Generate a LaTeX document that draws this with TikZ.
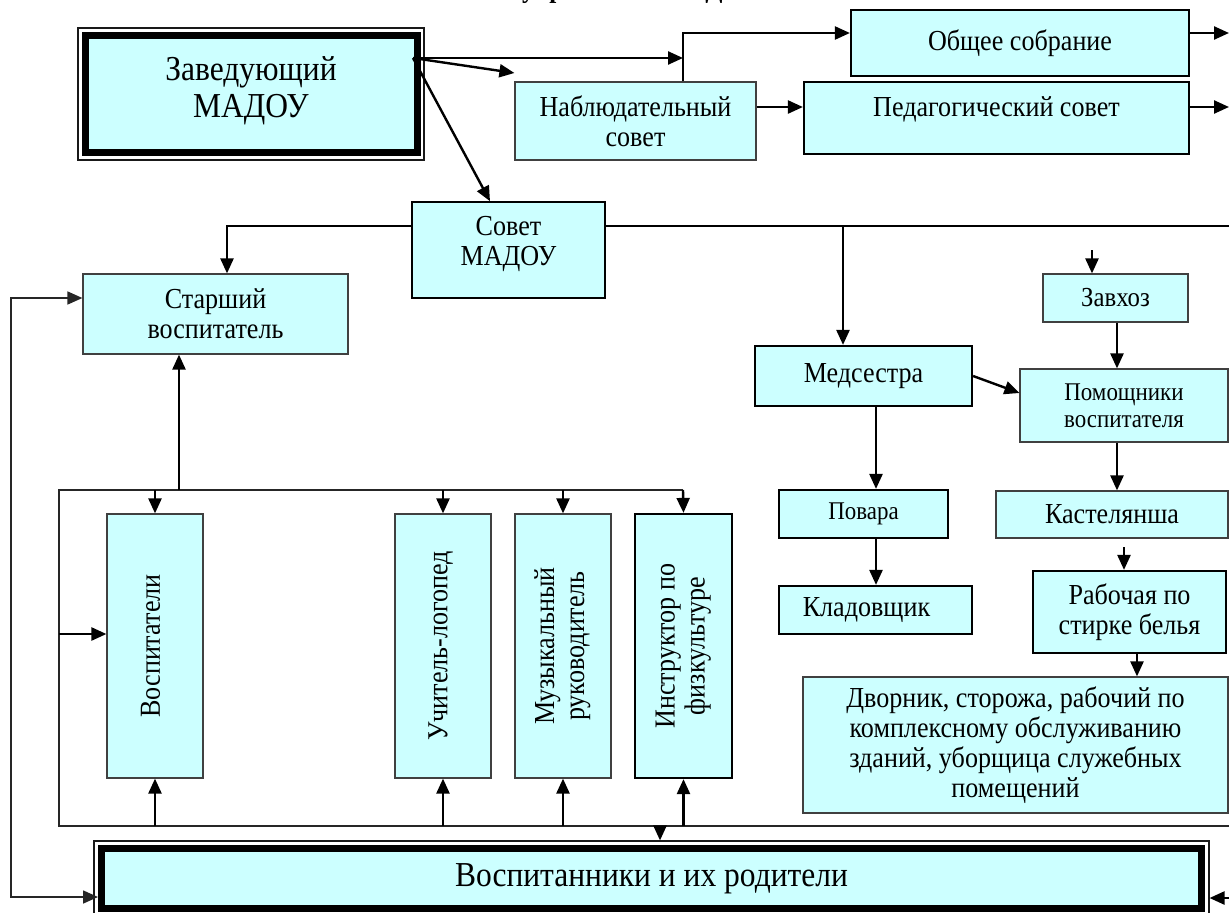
\documentclass[tikz,border=0pt]{standalone}
\usepackage{fontspec}
\setmainfont{Liberation Serif}[FakeStretch=0.9]
\usetikzlibrary{arrows.meta,calc}
\definecolor{boxfill}{RGB}{204,255,255}
\newcommand\fsz[2]{\fontsize{#1}{#2}\selectfont}
\begin{document}
\begin{tikzpicture}[x=1pt,y=-1pt,
  box/.style={draw=black!75, line width=1.2pt, fill=boxfill, inner sep=0pt, align=center, font=\fsz{29}{30}},
  boldbox/.style={box, draw=black, line width=2.2pt},
  thickbox/.style={box, draw=black, line width=7pt},
  thinframe/.style={draw=black!90, line width=1.1pt, inner sep=0pt},
  arr/.style={line width=2.4pt, -{Triangle[length=15pt,width=13pt]}},
  ln/.style={line width=1.8pt},
  frame/.style={line width=1.7pt, draw=black!85},
]
\useasboundingbox (0,0) rectangle (1229,913);

% cropped title (cut off at the top edge, as in the original)
\begin{scope}
\clip (0,0) rectangle (1229,913);
\node[anchor=base west, inner sep=0pt, font=\fsz{28}{32}\bfseries] (title) at (522,-3) {управления МАДОУ};
\end{scope}

% main boxes
\node[thinframe, minimum width=346pt, minimum height=132pt] (zavout) at (251,94) {};
\node[thickbox, minimum width=332pt, minimum height=117pt, font=\fsz{35}{37}, text depth=13pt] (zav) at (251,94) {Заведующий\\МАДОУ};

\node[box, minimum width=241pt, minimum height=78pt] (nab) at (635.5,121) {Наблюдательный\\совет};
\node[boldbox, minimum width=338pt, minimum height=66pt] (obs) at (1020,43) {Общее собрание};
\node[boldbox, minimum width=385pt, minimum height=72pt, text depth=22pt] (ped) at (996.5,118) {Педагогический совет};
\node[box, draw=black, line width=1.6pt, minimum width=193pt, minimum height=96pt, text depth=18pt] (sov) at (508.5,250) {Совет\\МАДОУ};
\node[box, minimum width=265pt, minimum height=80pt] (star) at (215.5,314) {Старший\\воспитатель};

\node[boldbox, minimum width=217pt, minimum height=60pt] (med) at (863.5,376) {Медсестра};
\node[box, minimum width=145pt, minimum height=48pt, font=\fsz{27.5}{30}] (zavh) at (1115.5,298) {Завхоз};
\node[box, minimum width=208pt, minimum height=73pt, font=\fsz{25.5}{27}] (pom) at (1124,405.5) {Помощники\\воспитателя};
\node[boldbox, minimum width=169pt, minimum height=48pt, font=\fsz{25.5}{27}] (pov) at (863.5,514) {Повара};
\node[boldbox, minimum width=193pt, minimum height=48pt] (klad) at (875.5,610) {\hspace*{-18pt}Кладовщик};
\node[box, minimum width=232pt, minimum height=47pt] (kast) at (1112,514.5) {Кастелянша};
\node[boldbox, minimum width=193pt, minimum height=82pt] (rab) at (1129.5,612) {Рабочая по\\стирке белья};
\node[box, minimum width=425pt, minimum height=136pt] (dvor) at (1015.5,745) {Дворник, сторожа, рабочий по\\комплексному обслуживанию\\зданий, уборщица служебных\\помещений};

\node[box, minimum width=96pt, minimum height=264pt] (vosp) at (155,646) {\rotatebox{90}{\raisebox{9pt}{Воспитатели}}};
\node[box, minimum width=96pt, minimum height=264pt] (ucht) at (443,646) {\rotatebox{90}{\raisebox{10pt}{Учитель-логопед}}};
\node[box, minimum width=96pt, minimum height=264pt] (muz) at (563,646) {\rotatebox{90}{\begin{tabular}{@{}c@{}}Музыкальный\\руководитель\end{tabular}}};
\node[boldbox, minimum width=97pt, minimum height=264pt] (inst) at (683.5,646) {\rotatebox{90}{\raisebox{-5pt}{\begin{tabular}{@{}c@{}}Инструктор по\\физкультуре\end{tabular}}}};

\node[thinframe, minimum width=1115pt, minimum height=75pt] (vrout) at (651.5,878.5) {};
\node[thickbox, minimum width=1100pt, minimum height=60pt, font=\fsz{35}{37}] (vr) at (651.5,878.5) {Воспитанники и их родители};

% helper coordinates
\coordinate (zo) at (413,58);
\coordinate (j1) at (683,58);
\coordinate (j2) at (683,33);
\coordinate (y73) at (0,73);
\coordinate (y107) at (0,107);
\coordinate (x490) at (490,0);
\coordinate (eObs) at (1229,33);
\coordinate (ePed) at (1229,107);
\coordinate (sb) at (0,226);
\coordinate (x227) at (227,0);
\coordinate (eSov) at (1229,226);
\coordinate (tm) at (843,226);
\coordinate (zin) at (1092,250);
\coordinate (x1117) at (1117,0);
\coordinate (x876) at (876,0);
\coordinate (rin) at (1124,547);
\coordinate (x1137) at (1137,0);
\coordinate (ftl) at (59,490);
\coordinate (ftr) at (683,490);
\coordinate (fbl) at (59,826);
\coordinate (fbr) at (1229,826);
\coordinate (x179) at (179,0);
\coordinate (fl) at (59,634);
\coordinate (x660) at (660,0);
\coordinate (ll1) at (11,298);
\coordinate (ll2) at (11,897);
\coordinate (eR) at (1229,898);

% connectors from head
\draw[arr] (zo) -- (j1);
\draw[arr] (zo) -- (nab.west |- y73);
\draw[arr] (zo) -- (sov.north -| x490);
\draw[arr] (nab.north -| j1) -- (j2) -- (obs.west |- j2);
\draw[arr] (nab.east |- y107) -- (ped.west |- y107);
\draw[arr] (obs.east |- j2) -- (eObs);
\draw[arr] (ped.east |- y107) -- (ePed);

% council bus
\draw[arr] (sov.west |- sb) -| (star.north -| x227);
\draw[ln] (sov.east |- sb) -- (eSov);
\draw[arr] (tm) -- (med.north -| tm);
\draw[arr] (zin) -- (zavh.north -| zin);
\draw[arr] (zavh.south -| x1117) -- (pom.north -| x1117);
\draw[arr] (med.east) -- ($(pom.west)+(0,-12.5)$);
\draw[arr] (med.south -| x876) -- (pov.north -| x876);
\draw[arr] (pov.south -| x876) -- (klad.north -| x876);
\draw[arr] (pom.south -| x1117) -- (kast.north -| x1117);
\draw[arr] (rin) -- (rab.north -| rin);
\draw[arr] (rab.south -| x1137) -- (dvor.north -| x1137);

% staff frame
\draw[frame] (ftr) -- (ftl) -- (fbl) -- (fbr);
\draw[arr] (ftr) -- (inst.north);
\draw[arr] (vosp.north |- ftl) -- (vosp.north);
\draw[arr] (ucht.north |- ftl) -- (ucht.north);
\draw[arr] (muz.north |- ftl) -- (muz.north);
\draw[arr] (x179 |- ftl) -- (star.south -| x179);
\draw[arr] (fl) -- (vosp.west |- fl);
\draw[arr] (vosp.south |- fbl) -- (vosp.south);
\draw[arr] (ucht.south |- fbl) -- (ucht.south);
\draw[arr] (muz.south |- fbl) -- (muz.south);
\draw[arr] (inst.south |- fbl) -- (inst.south);
\draw[arr] (x660 |- fbl) -- (vrout.north -| x660);

% long left line and right arrow
\draw[frame, {Triangle[length=15pt,width=13pt]}-{Triangle[length=15pt,width=13pt]}] (star.west |- ll1) -- (ll1) -- (ll2) -- (vr.west |- ll2);
\draw[arr] (eR) -- (vrout.east |- eR);
\end{tikzpicture}
\end{document}
